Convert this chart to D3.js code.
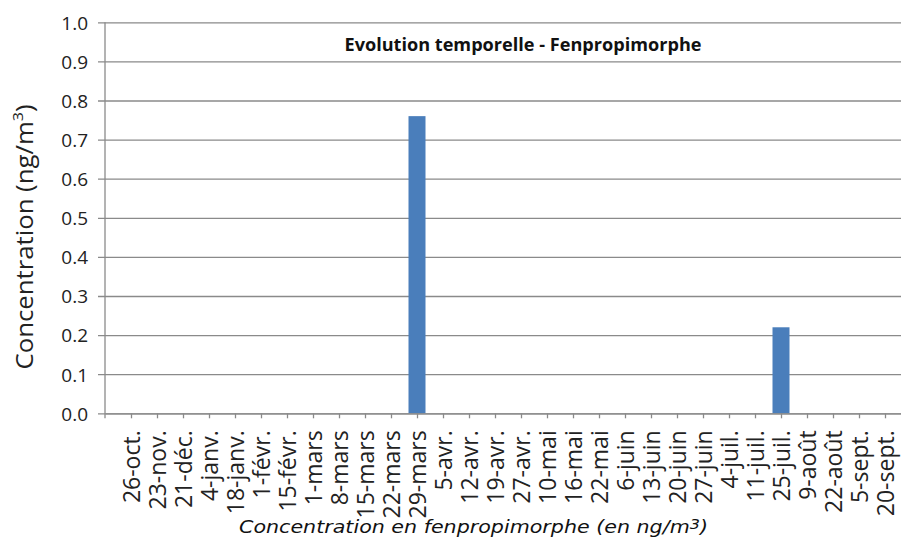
<!DOCTYPE html>
<html>
<head>
<meta charset="utf-8">
<script src="https://cdn.jsdelivr.net/npm/d3@7"></script>
<style>
  html, body { margin: 0; padding: 0; background: #fff; }
  svg { display: block; }
</style>
</head>
<body>
<svg id="chart" width="901" height="540"></svg>
<script>
// Sampling dates (one bar per sample)
const dates = ["26-oct.", "23-nov.", "21-déc.", "4-janv.", "18-janv.", "1-févr.", "15-févr.",
  "1-mars", "8-mars", "15-mars", "22-mars", "29-mars", "5-avr.", "12-avr.", "19-avr.", "27-avr.",
  "10-mai", "16-mai", "22-mai", "6-juin", "13-juin", "20-juin", "27-juin", "4-juil.", "11-juil.",
  "25-juil.", "9-août", "22-août", "5-sept.", "20-sept."];

// Fenpropimorphe concentration (ng/m3) per date
const concentrations = [0, 0, 0, 0, 0, 0, 0,
  0, 0, 0, 0, 0.76, 0, 0, 0, 0,
  0, 0, 0, 0, 0, 0, 0, 0, 0,
  0.22, 0, 0, 0, 0];

// Y-axis tick values
const yTicks = [0, 0.1, 0.2, 0.3, 0.4, 0.5, 0.6, 0.7, 0.8, 0.9, 1.0];

const titleText = "Evolution temporelle - Fenpropimorphe";
const yTitle = "Concentration (ng/m";
const xTitle = "Concentration en fenpropimorphe (en ng/m";

const svg = d3.select("#chart");
const plotLeft = 105, plotRight = 911, plotTop = 22.3, plotBottom = 413.3;

const x = d3.scalePoint().domain(dates).range([plotLeft, plotRight]).padding(1);
const y = d3.scaleLinear().domain([0, 1]).range([plotBottom, plotTop]);

const gridColor = "#8a8a8a";

// Horizontal gridlines with outer tick marks
const yAxis = d3.axisLeft(y).tickValues(yTicks).tickFormat(d3.format(".1f"))
  .tickSize(-(plotRight - plotLeft)).tickSizeOuter(0).tickPadding(17);
const gy = svg.append("g").attr("transform", `translate(${plotLeft},0)`).call(yAxis);
gy.select(".domain").remove();
gy.selectAll(".tick line").attr("stroke", gridColor).attr("stroke-width", 1.3).attr("x1", -7);
gy.selectAll(".tick text")
  .attr("font-family", "Open Sans, sans-serif").attr("font-size", 19)
  .attr("fill", "#222").attr("dy", "0.36em");

// Vertical axis line
svg.append("line").attr("x1", plotLeft).attr("x2", plotLeft).attr("y1", plotTop).attr("y2", plotBottom + 5)
  .attr("stroke", gridColor).attr("stroke-width", 1.3);

// Bars
const bw = 17;
svg.append("g").selectAll("rect")
  .data(dates.map((d, i) => ({ date: d, value: concentrations[i] })).filter(d => d.value > 0))
  .join("rect")
  .attr("x", d => x(d.date) - bw / 2)
  .attr("width", bw)
  .attr("y", d => y(d.value))
  .attr("height", d => y(0) - y(d.value))
  .attr("fill", "#4a7ebb");

// X axis with category ticks and rotated labels
const xAxis = d3.axisBottom(x).tickSize(5).tickSizeOuter(0).tickPadding(12);
const gx = svg.append("g").attr("transform", `translate(0,${plotBottom})`).call(xAxis);
gx.select(".domain").attr("stroke", gridColor).attr("stroke-width", 1.3);
gx.selectAll(".tick line").attr("stroke", gridColor).attr("stroke-width", 1.3);
gx.selectAll(".tick text")
  .attr("font-family", "Open Sans, sans-serif").attr("font-size", 23)
  .attr("fill", "#222")
  .attr("text-anchor", "end")
  .attr("transform", "rotate(-90)")
  .attr("x", -17).attr("y", 0).attr("dy", "0.38em");

// Chart title
svg.append("text")
  .attr("x", 523).attr("y", 51).attr("text-anchor", "middle")
  .attr("font-family", "Open Sans, sans-serif").attr("font-weight", "bold")
  .attr("font-size", 18).attr("fill", "#111")
  .attr("textLength", 357).attr("lengthAdjust", "spacingAndGlyphs")
  .text(titleText);

// Y axis title
const yt = svg.append("text")
  .attr("transform", "translate(33,237) rotate(-90)")
  .attr("text-anchor", "middle")
  .attr("font-family", "Open Sans, sans-serif").attr("font-size", 24).attr("fill", "#222")
  .attr("textLength", 265).attr("lengthAdjust", "spacingAndGlyphs");
yt.append("tspan").text(yTitle);
yt.append("tspan").attr("font-size", 15).attr("dy", -10).text("3");
yt.append("tspan").attr("dy", 10).text(")");

// X axis title
const xt = svg.append("text")
  .attr("x", 473.5).attr("y", 533).attr("text-anchor", "middle")
  .attr("font-family", "DejaVu Sans, sans-serif").attr("font-style", "italic")
  .attr("font-size", 18).attr("fill", "#111")
  .attr("textLength", 469).attr("lengthAdjust", "spacingAndGlyphs");
xt.append("tspan").text(xTitle);
xt.append("tspan").attr("font-size", 14).attr("dy", -4).text("3");
xt.append("tspan").attr("dy", 4).text(")");
</script>
</body>
</html>
